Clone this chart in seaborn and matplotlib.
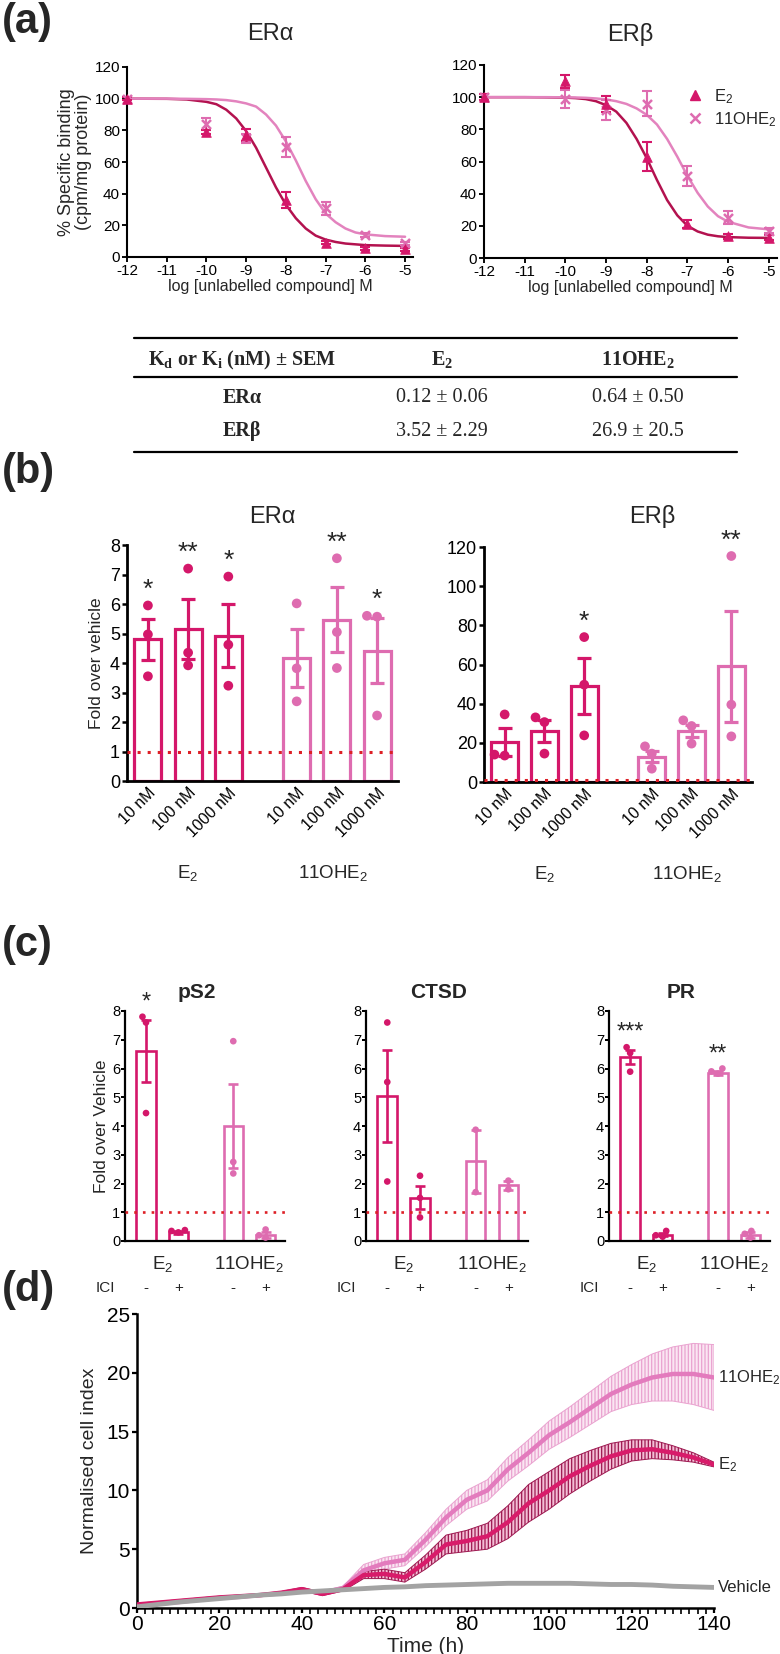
import numpy as np
import pandas as pd
import matplotlib
matplotlib.use("Agg")
import matplotlib.pyplot as plt
import seaborn as sns
from matplotlib.lines import Line2D
from matplotlib.ticker import MultipleLocator
from matplotlib.transforms import blended_transform_factory

# ---------------- (a) competitive binding ----------------
log_conc = [-12, -10, -9, -8, -7, -6, -5]
era_e2 = [100, 79, 77, 36, 9, 5.5, 5]
era_e2_sem = [1, 1.5, 4, 5, 1, 1, 1]
era_oh = [100, 84, 75, 69.6, 30.7, 13.9, 8.6]
era_oh_sem = [1, 4, 3, 6.5, 4, 1, 1]
erb_e2 = [100, 110, 96, 63, 21, 13.5, 12.5]
erb_e2_sem = [2, 4, 5, 9, 2.5, 1.5, 1.5]
erb_oh = [100, 99, 92, 96, 51, 25, 17]
erb_oh_sem = [2, 5.5, 6, 8, 6.5, 4, 1.5]

fit_x = [-12, -11, -10.5, -10, -9.75, -9.5, -9.25, -9, -8.75, -8.5, -8.25,
         -8, -7.75, -7.5, -7.25, -7, -6.75, -6.5, -6.25, -6, -5.5, -5]
fit_era_e2 = [100, 99.9, 99.5, 98, 96.5, 93, 87.5, 79.5, 69, 56.5, 44,
              33, 24.5, 18, 13.5, 11, 9.5, 8.5, 8, 7.5, 7.2, 7]
fit_era_oh = [100, 100, 99.9, 99.7, 99.5, 99.1, 98.3, 97, 95, 90, 83,
              73, 61, 48, 36.5, 27.5, 22, 18, 15.5, 14.3, 13.2, 12.8]
fit_erb_e2 = [100, 100, 99.9, 99.7, 99.4, 98.8, 97.5, 95, 91, 84, 74,
              62, 48.5, 36, 26.5, 20, 16.5, 14.5, 13.5, 13, 12.6, 12.5]
fit_erb_oh = [100, 100, 100, 99.9, 99.8, 99.6, 99.2, 98.6, 97.5, 95.8, 93,
              89, 83, 74, 63, 51, 40.5, 32, 26, 22.5, 19, 17.8]

table_cols = ["K$_\\mathregular{d}$ or K$_\\mathregular{i}$ (nM) ± SEM", "E$_\\mathregular{2}$", "11OHE$_\\mathregular{2}$"]
table_rows = ["ERα", "ERβ"]
table_e2 = ["0.12 ± 0.06", "3.52 ± 2.29"]
table_oh = ["0.64 ± 0.50", "26.9 ± 20.5"]

# ---------------- (b) reporter assay ----------------
conc_labels = ["10 nM", "100 nM", "1000 nM"]
b_era_e2 = [4.8, 5.15, 4.93]
b_era_e2_sem = [0.7, 1.03, 1.07]
b_era_e2_pts = [[5.95, 4.97, 3.55], [7.2, 4.35, 3.92], [6.93, 4.62, 3.23]]
b_era_oh = [4.18, 5.47, 4.42]
b_era_oh_sem = [0.98, 1.1, 1.1]
b_era_oh_pts = [[6.02, 3.82, 2.7], [7.55, 5.05, 3.83], [5.6, 5.57, 2.22]]
b_era_stars = ["*", "**", "*", "", "**", "*"]

b_erb_e2 = [20.5, 26, 49]
b_erb_e2_sem = [7, 5.8, 14.5]
b_erb_e2_pts = [[34.5, 13.5, 14], [33, 30.6, 14.5], [74, 49.7, 23.8]]
b_erb_oh = [12.8, 26, 59]
b_erb_oh_sem = [2.8, 3.0, 28.5]
b_erb_oh_pts = [[18.2, 14.5, 6.8], [31.5, 28.6, 19.6], [115.4, 39.5, 23.3]]
b_erb_stars = ["", "", "*", "", "", "**"]

# ---------------- (c) target genes ----------------
c_genes = ["pS2", "CTSD", "PR"]
c_means = {"pS2": [6.6, 0.3, 4.0, 0.2],
           "CTSD": [5.05, 1.5, 2.77, 1.94],
           "PR": [6.4, 0.22, 5.85, 0.2]}
c_sems = {"pS2": [1.08, 0.05, 1.45, 0.1],
          "CTSD": [1.6, 0.4, 1.1, 0.15],
          "PR": [0.25, 0.06, 0.06, 0.1]}
c_pts = {"pS2": [[7.8, 7.6, 4.45], [0.35, 0.3, 0.38], [6.95, 2.75, 2.35], [0.4, 0.2, 0.12]],
         "CTSD": [[7.6, 5.53, 2.07], [2.27, 1.5, 0.82], [3.87, 1.7], [2.1, 1.8]],
         "PR": [[6.74, 6.54, 5.89], [0.35, 0.2, 0.15], [5.82, 5.9, 6.0], [0.35, 0.25, 0.12]]}
c_stars = {"pS2": ["*", "", "", ""], "CTSD": ["", "", "", ""], "PR": ["***", "", "**", ""]}
ici_signs = ["-", "+", "-", "+"]

# ---------------- (d) proliferation ----------------
time_h = [0, 5, 10, 15, 20, 25, 30, 35, 40, 45, 50, 55, 60, 65, 70, 75, 80,
          85, 90, 95, 100, 105, 110, 115, 120, 125, 130, 135, 140]
oh_ci = [0.2, 0.35, 0.5, 0.7, 0.85, 0.95, 1.1, 1.25, 1.5, 1.3, 1.7, 3.2, 3.8, 4.1,
         5.8, 7.7, 9.2, 10.0, 11.8, 13.2, 14.7, 15.8, 17.0, 18.2, 19.0, 19.6, 19.9, 19.9, 19.6]
oh_ci_sem = [0.1, 0.1, 0.1, 0.1, 0.1, 0.1, 0.1, 0.1, 0.15, 0.15, 0.15, 0.5, 0.5, 0.5,
             0.6, 0.7, 0.8, 0.9, 1.0, 1.1, 1.2, 1.3, 1.4, 1.5, 1.7, 2.0, 2.3, 2.6, 2.8]
e2_ci = [0.3, 0.45, 0.6, 0.75, 0.9, 1.0, 1.1, 1.3, 1.6, 1.2, 1.6, 2.8, 2.9, 2.6,
         3.9, 5.4, 5.7, 6.1, 7.3, 8.9, 10.0, 11.2, 12.1, 12.9, 13.4, 13.5, 13.2, 12.8, 12.2]
e2_ci_sem = [0.1, 0.1, 0.1, 0.1, 0.1, 0.1, 0.1, 0.1, 0.15, 0.15, 0.15, 0.3, 0.4, 0.4,
             0.6, 0.8, 0.9, 1.1, 1.4, 1.6, 1.6, 1.5, 1.3, 1.1, 0.9, 0.8, 0.6, 0.4, 0.2]
veh_ci = [0.1, 0.3, 0.5, 0.65, 0.8, 0.95, 1.1, 1.2, 1.35, 1.45, 1.55, 1.65, 1.75, 1.8,
          1.9, 1.95, 2.0, 2.05, 2.1, 2.1, 2.1, 2.1, 2.05, 2.0, 2.0, 1.95, 1.85, 1.8, 1.75]

E2_C = "#d4176a"
OH_C = "#de6cb0"
E2_FIT = "#b3124f"
OH_FIT = "#e383be"
RED = "#dd1f26"

sns.set_style("ticks")
plt.rcParams["font.family"] = ["Liberation Sans", "DejaVu Sans"]
plt.rcParams["mathtext.default"] = "regular"
plt.rcParams["axes.unicode_minus"] = False
plt.rcParams["hatch.linewidth"] = 0.9

W, H = 780, 1654
fig = plt.figure(figsize=(W / 100, H / 100), dpi=100)


def add_ax(l, t, r, b):
    return fig.add_axes([l / W, 1 - b / H, (r - l) / W, (b - t) / H])


def prism(ax, size, lw=1.5):
    sns.despine(ax=ax)
    for s in ("left", "bottom"):
        ax.spines[s].set_linewidth(lw)
        ax.spines[s].set_color("black")
    ax.tick_params(colors="black", width=lw * 0.9, length=3.5, labelsize=size, pad=1.5)


def ftext(x, y, s, **kw):
    fig.text(x / W, 1 - y / H, s, **kw)


def hline(x0, x1, y, lw=1.6):
    fig.add_artist(Line2D([x0 / W, x1 / W], [1 - y / H, 1 - y / H],
                          transform=fig.transFigure, color="black", lw=lw))


# ---------- panel labels ----------
for lab, y in [("(a)", 22), ("(b)", 472), ("(c)", 945), ("(d)", 1290)]:
    ftext(2, y, lab, fontsize=30, fontweight="bold", va="center", ha="left")

# ---------- (a) ----------
ax_a1 = add_ax(127, 67, 413, 257)
ax_a2 = add_ax(484, 65, 777, 258)
a_sets = [(ax_a1, era_e2, era_e2_sem, era_oh, era_oh_sem, fit_era_e2, fit_era_oh, "ERα", 270),
          (ax_a2, erb_e2, erb_e2_sem, erb_oh, erb_oh_sem, fit_erb_e2, fit_erb_oh, "ERβ", 630)]
for ax, e2, e2s, oh, ohs, f_e2, f_oh, title, tx in a_sets:
    sns.lineplot(x=fit_x, y=f_e2, color=E2_FIT, lw=1.8, ax=ax)
    sns.lineplot(x=fit_x, y=f_oh, color=OH_FIT, lw=1.8, ax=ax)
    ax.errorbar(log_conc, oh, yerr=ohs, fmt="none", ecolor=OH_C, elinewidth=1.5,
                capsize=3.5, capthick=1.5, clip_on=False, zorder=3)
    ax.errorbar(log_conc, e2, yerr=e2s, fmt="none", ecolor=E2_C, elinewidth=1.5,
                capsize=3.5, capthick=1.5, clip_on=False, zorder=3)
    sns.scatterplot(x=log_conc, y=oh, marker="x", color=OH_C, s=42, linewidth=1.8,
                    ax=ax, clip_on=False, zorder=4)
    sns.scatterplot(x=log_conc, y=e2, marker="^", color=E2_C, s=48, edgecolor=E2_C,
                    ax=ax, clip_on=False, zorder=5)
    ax.set_xlim(-12, -4.8)
    ax.set_ylim(0, 120)
    ax.set_xticks(range(-12, -4))
    ax.set_yticks(range(0, 121, 20))
    prism(ax, 11)
    ax.set_xlabel("log [unlabelled compound] M", fontsize=11.5, labelpad=1)
    ftext(tx, 34, title, fontsize=17, ha="center", va="center")
ax_a1.set_ylabel("% Specific binding\n(cpm/mg protein)", fontsize=13, labelpad=2, linespacing=0.95)
ax_a2.set_ylabel("")
leg_handles = [Line2D([], [], marker="^", ls="none", color=E2_C, markersize=7),
               Line2D([], [], marker="x", ls="none", color=OH_C, markersize=7, mew=1.8)]
ax_a2.legend(leg_handles, ["E$_2$", "11OHE$_2$"], loc="upper right", bbox_to_anchor=(1.02, 0.92),
             frameon=False, fontsize=12, handletextpad=0.1, borderaxespad=0, labelspacing=0.25)

# ---------- table ----------
tab_l, tab_r = 134, 737
hline(tab_l, tab_r, 338)
hline(tab_l, tab_r, 377)
hline(tab_l, tab_r, 452)
col_x = [242, 442, 638]
SERIF = ["Liberation Serif", "DejaVu Serif"]
for cx, s in zip(col_x, table_cols):
    ftext(cx, 360, s, fontsize=14.5, fontweight="bold", family=SERIF, ha="center", va="center")
for i, ry in enumerate([398, 431]):
    ftext(col_x[0], ry, table_rows[i], fontsize=14.5, fontweight="bold", family=SERIF,
          ha="center", va="center")
    ftext(col_x[1], ry, table_e2[i], fontsize=14.5, family=SERIF, ha="center", va="center")
    ftext(col_x[2], ry, table_oh[i], fontsize=14.5, family=SERIF, ha="center", va="center")


# ---------- bar helper ----------
def bar_panel(ax, pos, means, sems, pts, colors, stars, ytop, msize, lw, width, capsize, star_fs):
    for p, m, s, c in zip(pos, means, sems, colors):
        ax.bar(p, m, width=width, facecolor="white", edgecolor=c, linewidth=lw, zorder=2)
        ax.errorbar(p, m, yerr=s, fmt="none", ecolor=c, elinewidth=lw, capsize=capsize,
                    capthick=lw, zorder=3)
    rows = []
    for i, (p, vals) in enumerate(zip(pos, pts)):
        for v in vals:
            rows.append({"pos": p, "val": v, "grp": str(i)})
    df = pd.DataFrame(rows)
    pal = {str(i): c for i, c in enumerate(colors)}
    sns.swarmplot(data=df, x="pos", y="val", hue="grp", palette=pal, native_scale=True,
                  size=msize, linewidth=0, ax=ax, legend=False, zorder=4, warn_thresh=1)
    for p, m, s, vals, st in zip(pos, means, sems, pts, stars):
        if st:
            top = max(max(vals), m + s)
            ax.text(p, top + ytop * 0.015, st, ha="center", va="bottom", fontsize=star_fs)


# ---------- (b) ----------
b_pos = [0, 1, 2, 3.7, 4.7, 5.7]
b_cols = [E2_C] * 3 + [OH_C] * 3
ax_b1 = add_ax(127, 545, 398, 781)
ax_b2 = add_ax(484, 547, 752, 782)
b_sets = [(ax_b1, b_era_e2 + b_era_oh, b_era_e2_sem + b_era_oh_sem, b_era_e2_pts + b_era_oh_pts,
           b_era_stars, 8, 1, "ERα", 272),
          (ax_b2, b_erb_e2 + b_erb_oh, b_erb_e2_sem + b_erb_oh_sem, b_erb_e2_pts + b_erb_oh_pts,
           b_erb_stars, 120, 20, "ERβ", 652)]
for ax, means, sems, pts, stars, ytop, ystep, title, tx in b_sets:
    bar_panel(ax, b_pos, means, sems, pts, b_cols, stars, ytop, 7, 2.3, 0.67, 5, 19)
    ax.axhline(1, color=RED, ls=(0, (1, 2.3)), lw=2.2, zorder=5)
    ax.set_xlim(-0.52, 6.22)
    ax.set_ylim(0, ytop)
    ax.set_yticks(np.arange(0, ytop + 0.1, ystep))
    prism(ax, 13, lw=2)
    ax.set_xticks(b_pos)
    ax.set_xticklabels(conc_labels * 2, rotation=45, ha="right", rotation_mode="anchor", fontsize=11.5)
    ax.tick_params(axis="x", length=0, pad=3)
    ax.set_xlabel("")
    ax.set_ylabel("")
    tr = blended_transform_factory(ax.transData, ax.transAxes)
    ax.text(1, -0.39, "E$_2$", transform=tr, ha="center", va="center", fontsize=13.5)
    ax.text(4.6, -0.39, "11OHE$_2$", transform=tr, ha="center", va="center", fontsize=13.5)
    ftext(tx, 517, title, fontsize=17, ha="center", va="center")
ax_b1.set_ylabel("Fold over vehicle", fontsize=12.5, labelpad=4)

# ---------- (c) ----------
c_pos = [0, 1, 2.7, 3.7]
c_cols = [E2_C, E2_C, OH_C, OH_C]
c_boxes = {"pS2": (125, 285), "CTSD": (366, 528), "PR": (609, 770)}
for gene in c_genes:
    l, r = c_boxes[gene]
    ax = add_ax(l, 1011, r, 1241)
    bar_panel(ax, c_pos, c_means[gene], c_sems[gene], c_pts[gene], c_cols, c_stars[gene],
              8, 4.8, 1.9, 0.6, 3.5, 17)
    ax.axhline(1, color=RED, ls=(0, (1, 2.3)), lw=1.9, zorder=5)
    ax.set_xlim(-0.65, 4.3)
    ax.set_ylim(0, 8)
    ax.set_yticks(range(0, 9))
    prism(ax, 10.5, lw=1.6)
    ax.set_xticks([])
    ax.set_xlabel("")
    ax.set_ylabel("")
    ax.tick_params(axis="y", length=3, pad=0.5)
    tr = blended_transform_factory(ax.transData, ax.transAxes)
    ax.text(0.5, -0.1, "E$_2$", transform=tr, ha="center", va="center", fontsize=13.5)
    ax.text(3.2, -0.1, "11OHE$_2$", transform=tr, ha="center", va="center", fontsize=13.5)
    for p, sg in zip(c_pos, ici_signs):
        ax.text(p, -0.205, sg, transform=tr, ha="center", va="center", fontsize=11)
    ax.text(-0.06, -0.205, "ICI", transform=ax.transAxes, ha="right", va="center", fontsize=11)
    ftext((l + r) / 2 - 8, 992, gene, fontsize=15, fontweight="bold", ha="center", va="center")
    if gene == "pS2":
        ax.set_ylabel("Fold over Vehicle", fontsize=12.5, labelpad=2)

# ---------- (d) ----------
ax_d = add_ax(137, 1314, 714, 1608)
t = np.array(time_h)
bands = [(np.array(oh_ci), np.array(oh_ci_sem), "#e37bbd", "#eaa3d0", "#fae6f2"),
         (np.array(e2_ci), np.array(e2_ci_sem), "#d81b6a", "#9d1850", "#f3bfd6")]
for m, s, line_c, hatch_c, face_c in bands:
    ax_d.fill_between(t, m - s, m + s, facecolor=face_c, edgecolor=hatch_c, hatch="|||||",
                      linewidth=0.7, zorder=2)
    sns.lineplot(x=t, y=m, color=line_c, lw=3.2, ax=ax_d, zorder=3)
sns.lineplot(x=t, y=veh_ci, color="#a3a3a3", lw=3.5, ax=ax_d, zorder=4)
ax_d.set_xlim(0, 140)
ax_d.set_ylim(0, 25)
ax_d.set_xticks(range(0, 141, 20))
ax_d.set_yticks(range(0, 26, 5))
ax_d.xaxis.set_minor_locator(MultipleLocator(2))
prism(ax_d, 15, lw=1.8)
ax_d.tick_params(axis="x", which="minor", length=4, width=1.2, colors="black")
ax_d.set_xlabel("Time (h)", fontsize=15, labelpad=2)
ax_d.set_ylabel("Normalised cell index", fontsize=14, labelpad=6)
for lab, yv in [("11OHE$_2$", oh_ci[-1]), ("E$_2$", e2_ci[-1]), ("Vehicle", veh_ci[-1])]:
    ax_d.text(141, yv, lab, fontsize=12, va="center", ha="left", clip_on=False)

fig.savefig("out.png", dpi=100, facecolor="white")
